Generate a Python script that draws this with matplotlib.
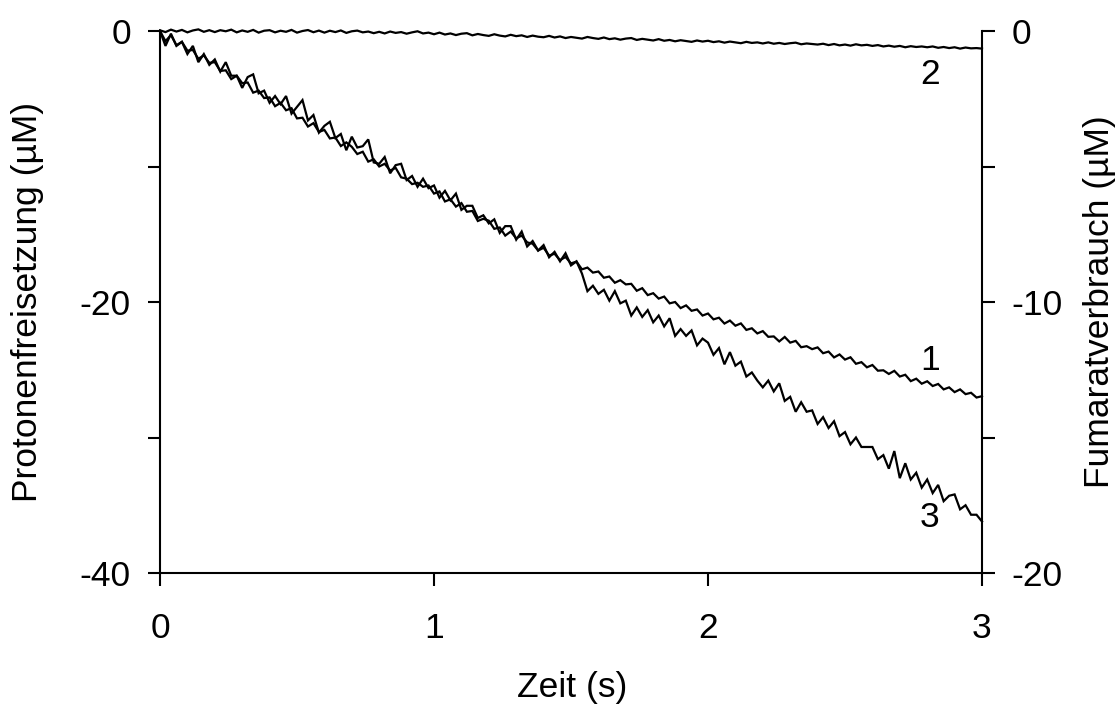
import numpy as np
import matplotlib
matplotlib.use("Agg")
import matplotlib.pyplot as plt

plt.rcParams['font.family'] = ['Liberation Sans', 'DejaVu Sans']

# time axis (s), 0.02 s sampling
t = np.arange(151) * 0.02

# curve 2 (µM, left-axis scale)
curve2 = [
    0.05, -0.08, 0.10, -0.04, 0.08, -0.10, 0.04, 0.12, -0.06, 0.06,
    -0.08, 0.06, -0.02, 0.10, -0.10, 0.04, -0.06, 0.08, -0.12, 0.02,
    0.06, -0.10, 0.02, -0.06, 0.08, -0.12, 0.00, 0.07, -0.09, 0.03,
    -0.12, 0.02, -0.08, 0.04, -0.14, -0.02, 0.03, -0.10, -0.04, -0.16,
    -0.06, -0.18, -0.04, -0.14, -0.08, -0.20, -0.10, -0.02, -0.18, -0.12,
    -0.24, -0.12, -0.26, -0.18, -0.30, -0.20, -0.16, -0.32, -0.22, -0.30,
    -0.36, -0.24, -0.34, -0.40, -0.28, -0.38, -0.32, -0.44, -0.34, -0.42,
    -0.46, -0.36, -0.48, -0.40, -0.52, -0.44, -0.50, -0.56, -0.44, -0.52,
    -0.58, -0.48, -0.60, -0.54, -0.64, -0.56, -0.52, -0.66, -0.58, -0.64,
    -0.70, -0.60, -0.72, -0.66, -0.76, -0.68, -0.74, -0.80, -0.70, -0.78,
    -0.72, -0.82, -0.76, -0.86, -0.78, -0.84, -0.90, -0.80, -0.88, -0.84,
    -0.92, -0.84, -0.94, -0.88, -0.96, -0.90, -0.86, -0.98, -0.92, -0.96,
    -1.00, -0.94, -1.04, -0.96, -1.06, -1.00, -1.08, -0.98, -1.06, -1.02,
    -1.10, -1.04, -1.14, -1.08, -1.16, -1.10, -1.20, -1.12, -1.18, -1.14,
    -1.20, -1.14, -1.24, -1.18, -1.26, -1.20, -1.30, -1.22, -1.28, -1.26,
    -1.30,
]

# curve 1
curve1 = [
    0.0, -0.75, -0.3, -1.05, -0.8, -1.45, -1.4, -2.05, -1.8, -2.35,
    -2.3, -2.95, -2.9, -3.55, -3.3, -3.85, -3.8, -4.55, -4.4, -4.95,
    -4.9, -5.55, -5.3, -5.85, -5.7, -6.45, -6.4, -7.05, -6.8, -7.45,
    -7.3, -7.93, -7.86, -8.49, -8.22, -8.55, -9.08, -8.91, -9.64, -9.47,
    -10.0, -9.8, -10.3, -10.1, -10.8, -10.9, -11.3, -11.2, -11.5, -11.4,
    -12.0, -11.84, -12.58, -12.42, -12.96, -12.7, -13.34, -13.28, -14.02, -13.86,
    -14.0, -14.6, -14.5, -15.1, -14.8, -15.3, -15.1, -15.6, -15.7, -16.2,
    -16.0, -16.57, -16.44, -16.91, -16.68, -17.15, -17.02, -17.59, -17.46, -17.83,
    -17.75, -18.21, -18.12, -18.58, -18.39, -18.7, -18.66, -19.17, -18.98, -19.49,
    -19.35, -19.75, -19.6, -20.1, -20.0, -20.45, -20.25, -20.65, -20.55, -21.0,
    -20.85, -21.28, -21.16, -21.59, -21.37, -21.75, -21.58, -22.06, -21.94, -22.32,
    -22.15, -22.57, -22.54, -22.91, -22.58, -23.0, -22.87, -23.34, -23.26, -23.48,
    -23.35, -23.78, -23.66, -24.09, -23.87, -24.25, -24.08, -24.56, -24.44, -24.82,
    -24.65, -25.07, -25.04, -25.31, -25.08, -25.5, -25.37, -25.84, -25.66, -26.03,
    -25.85, -26.2, -26.05, -26.45, -26.3, -26.65, -26.45, -26.8, -26.7, -27.05,
    -26.95,
]

# curve 3
curve3 = [
    0.0, -1.1, -0.2, -1.1, -0.8, -1.7, -1.1, -2.3, -1.7, -2.5,
    -2.1, -3.0, -2.3, -3.3, -3.3, -4.2, -3.4, -3.2, -4.6, -4.4,
    -5.3, -4.8, -5.4, -4.8, -6.1, -5.6, -5.1, -6.6, -6.2, -7.5,
    -7.0, -6.7, -7.9, -7.6, -8.8, -7.8, -8.6, -8.5, -8.0, -9.7,
    -9.8, -9.3, -10.5, -9.9, -9.8, -11.0, -10.7, -11.5, -10.9, -11.6,
    -11.4, -12.3, -11.8, -12.5, -12.0, -13.2, -12.9, -12.9, -13.8, -13.6,
    -14.2, -13.9, -14.9, -14.4, -14.4, -15.4, -14.8, -15.9, -15.5, -16.2,
    -15.8, -16.7, -16.3, -17.0, -16.4, -17.3, -17.0, -17.9, -19.2, -18.8,
    -19.4, -19.1, -19.9, -19.2, -20.1, -19.9, -21.0, -20.4, -21.1, -20.6,
    -21.5, -21.0, -21.8, -21.2, -22.5, -22.0, -22.5, -22.1, -23.2, -22.7,
    -23.0, -23.9, -23.4, -24.6, -23.7, -24.7, -24.4, -25.5, -25.2, -25.8,
    -26.3, -25.8, -26.6, -26.0, -27.3, -27.0, -28.1, -27.4, -28.1, -28.0,
    -29.0, -28.5, -29.3, -28.8, -29.9, -29.6, -30.5, -30.0, -30.7, -30.7,
    -30.7, -31.6, -31.3, -32.3, -31.0, -33.0, -31.9, -33.1, -32.6, -33.7,
    -33.1, -34.1, -33.5, -34.7, -34.3, -34.2, -35.3, -35.0, -35.7, -35.7,
    -36.2,
]

curve_labels = ["1", "2", "3"]
label_pos = [(2.81, -24.3), (2.81, -3.2), (2.81, -35.9)]

x_ticks = [0, 1, 2, 3]
left_ticks = [-40, -30, -20, -10, 0]
left_ticklabels = ["-40", "", "-20", "", "0"]
right_ticks = [-20, -15, -10, -5, 0]
right_ticklabels = ["-20", "", "-10", "", "0"]

FS = 25.5
fig = plt.figure(figsize=(11.2, 7.07), dpi=100)
ax = fig.add_axes([160 / 1120, 1 - 573 / 707, 822 / 1120, 542 / 707])

for y in (curve1, curve2, curve3):
    ax.plot(t, y, color='black', lw=1.6, solid_joinstyle='miter', clip_on=False)

for lab, (lx, ly) in zip(curve_labels, label_pos):
    ax.text(lx, ly, lab, fontsize=FS, ha='center', va='center')

ax.set_xlim(0, 3)
ax.set_ylim(-40, 0)
ax.set_xticks(x_ticks)
ax.set_xticklabels([str(v) for v in x_ticks])
ax.set_yticks(left_ticks)
ax.set_yticklabels(left_ticklabels)

ax2 = ax.twinx()
ax2.set_ylim(-20, 0)
ax2.set_yticks(right_ticks)
ax2.set_yticklabels(right_ticklabels)

for a in (ax, ax2):
    for s in a.spines.values():
        s.set_linewidth(1.5)
    a.spines['top'].set_visible(False)
ax.spines['right'].set_visible(False)
ax2.spines['left'].set_visible(False)
ax2.spines['bottom'].set_visible(False)

ax.tick_params(axis='x', direction='out', length=9, width=1.5, pad=19, labelsize=FS)
ax.tick_params(axis='y', direction='out', length=9, width=1.5, pad=12, labelsize=FS)
ax2.tick_params(axis='y', direction='out', length=9, width=1.5, pad=12, labelsize=FS)

fig.text(572 / 1120, 1 - 688 / 707, "Zeit (s)", fontsize=FS, ha='center', va='center')
fig.text(28 / 1120, 1 - 302 / 707, "Protonenfreisetzung (µM)", fontsize=FS,
         ha='center', va='center', rotation=90)
fig.text(1100 / 1120, 1 - 302 / 707, "Fumaratverbrauch (µM)", fontsize=FS,
         ha='center', va='center', rotation=90)

fig.savefig("out.png", dpi=100)
